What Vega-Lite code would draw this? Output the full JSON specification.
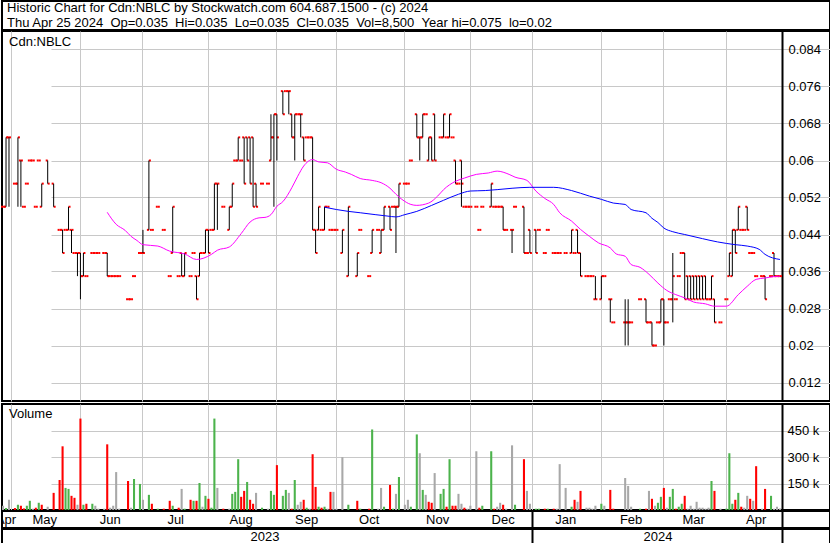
{
"$schema":"https://vega.github.io/schema/vega-lite/v6.json",
"padding":0,
"background":"white",
"config":{"view":{"stroke":"black","strokeWidth":2},"font":"Liberation Sans",
"axis":{"labelFont":"Liberation Sans","labelColor":"black","labelFontSize":13,"gridColor":"#c8c8c8","gridWidth":1,"gridOpacity":1},
"text":{"font":"Liberation Sans","fontSize":13,"color":"black"}},
"datasets":{
"px":[
{"d":"2023-04-26","o":0.05,"h":0.05,"l":0.05,"c":0.05,"v":24100,"dir":"flat"},
{"d":"2023-04-27","o":0.05,"h":0.065,"l":0.05,"c":0.065,"v":11000,"dir":"up"},
{"d":"2023-04-28","o":0.065,"h":0.065,"l":0.05,"c":0.065,"v":57800,"dir":"flat"},
{"d":"2023-05-01","v":0},
{"d":"2023-05-02","o":0.055,"h":0.055,"l":0.055,"c":0.055,"v":11000,"dir":"down"},
{"d":"2023-05-03","o":0.055,"h":0.065,"l":0.05,"c":0.065,"v":29700,"dir":"up"},
{"d":"2023-05-04","o":0.06,"h":0.06,"l":0.05,"c":0.06,"v":24100,"dir":"down"},
{"d":"2023-05-05","o":0.05,"h":0.05,"l":0.05,"c":0.05,"v":9000,"dir":"down"},
{"d":"2023-05-08","o":0.055,"h":0.055,"l":0.055,"c":0.055,"v":24100,"dir":"up"},
{"d":"2023-05-09","o":0.06,"h":0.06,"l":0.06,"c":0.06,"v":52100,"dir":"up"},
{"d":"2023-05-10","o":0.06,"h":0.06,"l":0.06,"c":0.06,"v":7300,"dir":"flat"},
{"d":"2023-05-11","o":0.05,"h":0.05,"l":0.05,"c":0.05,"v":12900,"dir":"down"},
{"d":"2023-05-12","o":0.06,"h":0.06,"l":0.06,"c":0.06,"v":40900,"dir":"up"},
{"d":"2023-05-15","o":0.05,"h":0.055,"l":0.05,"c":0.055,"v":29700,"dir":"down"},
{"d":"2023-05-16","v":0},
{"d":"2023-05-17","o":0.06,"h":0.06,"l":0.055,"c":0.055,"v":18500,"dir":"flat"},
{"d":"2023-05-18","v":0},
{"d":"2023-05-19","o":0.055,"h":0.055,"l":0.05,"c":0.05,"v":97000,"dir":"down"},
{"d":"2023-05-22","v":0},
{"d":"2023-05-23","o":0.045,"h":0.045,"l":0.045,"c":0.045,"v":169900,"dir":"down"},
{"d":"2023-05-24","o":0.045,"h":0.045,"l":0.04,"c":0.04,"v":360500,"dir":"down"},
{"d":"2023-05-25","o":0.045,"h":0.045,"l":0.045,"c":0.045,"v":125000,"dir":"up"},
{"d":"2023-05-26","o":0.045,"h":0.05,"l":0.045,"c":0.05,"v":119400,"dir":"up"},
{"d":"2023-05-29","o":0.045,"h":0.045,"l":0.04,"c":0.045,"v":80200,"dir":"down"},
{"d":"2023-05-30","o":0.04,"h":0.04,"l":0.04,"c":0.04,"v":69000,"dir":"down"},
{"d":"2023-05-31","o":0.04,"h":0.04,"l":0.035,"c":0.04,"v":29700,"dir":"flat"},
{"d":"2023-06-01","o":0.04,"h":0.04,"l":0.03,"c":0.035,"v":517500,"dir":"down"},
{"d":"2023-06-02","o":0.035,"h":0.04,"l":0.035,"c":0.04,"v":29700,"dir":"up"},
{"d":"2023-06-05","o":0.035,"h":0.035,"l":0.035,"c":0.035,"v":35300,"dir":"down"},
{"d":"2023-06-06","v":0},
{"d":"2023-06-07","o":0.04,"h":0.04,"l":0.04,"c":0.04,"v":35300,"dir":"up"},
{"d":"2023-06-08","o":0.04,"h":0.04,"l":0.04,"c":0.04,"v":24100,"dir":"flat"},
{"d":"2023-06-09","o":0.04,"h":0.04,"l":0.04,"c":0.04,"v":7300,"dir":"flat"},
{"d":"2023-06-12","v":0},
{"d":"2023-06-13","o":0.04,"h":0.04,"l":0.04,"c":0.04,"v":7300,"dir":"flat"},
{"d":"2023-06-14","o":0.04,"h":0.04,"l":0.035,"c":0.035,"v":371700,"dir":"down"},
{"d":"2023-06-15","o":0.035,"h":0.035,"l":0.035,"c":0.035,"v":12900,"dir":"flat"},
{"d":"2023-06-16","o":0.035,"h":0.035,"l":0.035,"c":0.035,"v":24100,"dir":"flat"},
{"d":"2023-06-19","o":0.035,"h":0.035,"l":0.035,"c":0.035,"v":214700,"dir":"flat"},
{"d":"2023-06-20","o":0.035,"h":0.035,"l":0.035,"c":0.035,"v":7300,"dir":"flat"},
{"d":"2023-06-21","v":0},
{"d":"2023-06-22","v":0},
{"d":"2023-06-23","o":0.03,"h":0.03,"l":0.03,"c":0.03,"v":164300,"dir":"down"},
{"d":"2023-06-26","o":0.03,"h":0.03,"l":0.03,"c":0.03,"v":12900,"dir":"flat"},
{"d":"2023-06-27","o":0.035,"h":0.035,"l":0.035,"c":0.035,"v":175500,"dir":"up"},
{"d":"2023-06-28","v":0},
{"d":"2023-06-29","o":0.04,"h":0.04,"l":0.04,"c":0.04,"v":147500,"dir":"up"},
{"d":"2023-06-30","o":0.04,"h":0.045,"l":0.04,"c":0.04,"v":57800,"dir":"flat"},
{"d":"2023-07-03","v":0},
{"d":"2023-07-04","o":0.045,"h":0.06,"l":0.045,"c":0.06,"v":85800,"dir":"up"},
{"d":"2023-07-05","o":0.045,"h":0.045,"l":0.045,"c":0.045,"v":35300,"dir":"down"},
{"d":"2023-07-06","v":0},
{"d":"2023-07-07","o":0.05,"h":0.05,"l":0.05,"c":0.05,"v":7300,"dir":"up"},
{"d":"2023-07-10","v":0},
{"d":"2023-07-11","o":0.045,"h":0.045,"l":0.045,"c":0.045,"v":7300,"dir":"down"},
{"d":"2023-07-12","v":0},
{"d":"2023-07-13","o":0.035,"h":0.035,"l":0.035,"c":0.035,"v":52100,"dir":"down"},
{"d":"2023-07-14","o":0.04,"h":0.05,"l":0.04,"c":0.05,"v":24100,"dir":"up"},
{"d":"2023-07-17","v":0},
{"d":"2023-07-18","o":0.035,"h":0.035,"l":0.035,"c":0.035,"v":12900,"dir":"down"},
{"d":"2023-07-19","o":0.04,"h":0.04,"l":0.035,"c":0.035,"v":119400,"dir":"flat"},
{"d":"2023-07-20","o":0.035,"h":0.04,"l":0.035,"c":0.04,"v":7300,"dir":"up"},
{"d":"2023-07-21","v":0},
{"d":"2023-07-24","o":0.035,"h":0.035,"l":0.035,"c":0.035,"v":57800,"dir":"down"},
{"d":"2023-07-25","o":0.04,"h":0.04,"l":0.04,"c":0.04,"v":52100,"dir":"up"},
{"d":"2023-07-26","o":0.035,"h":0.035,"l":0.03,"c":0.03,"v":52100,"dir":"down"},
{"d":"2023-07-27","o":0.035,"h":0.04,"l":0.035,"c":0.04,"v":153000,"dir":"up"},
{"d":"2023-07-28","o":0.04,"h":0.04,"l":0.04,"c":0.04,"v":18500,"dir":"flat"},
{"d":"2023-07-31","o":0.04,"h":0.045,"l":0.04,"c":0.045,"v":80200,"dir":"up"},
{"d":"2023-08-01","o":0.045,"h":0.045,"l":0.04,"c":0.04,"v":63400,"dir":"down"},
{"d":"2023-08-02","o":0.045,"h":0.045,"l":0.045,"c":0.045,"v":12900,"dir":"up"},
{"d":"2023-08-03","o":0.045,"h":0.055,"l":0.045,"c":0.055,"v":517500,"dir":"up"},
{"d":"2023-08-04","o":0.055,"h":0.055,"l":0.045,"c":0.055,"v":125000,"dir":"flat"},
{"d":"2023-08-07","v":0},
{"d":"2023-08-08","o":0.05,"h":0.05,"l":0.05,"c":0.05,"v":7300,"dir":"down"},
{"d":"2023-08-09","v":0},
{"d":"2023-08-10","o":0.045,"h":0.05,"l":0.045,"c":0.05,"v":7300,"dir":"flat"},
{"d":"2023-08-11","o":0.05,"h":0.055,"l":0.05,"c":0.055,"v":91400,"dir":"up"},
{"d":"2023-08-14","o":0.06,"h":0.06,"l":0.06,"c":0.06,"v":102600,"dir":"up"},
{"d":"2023-08-15","o":0.06,"h":0.065,"l":0.06,"c":0.065,"v":287600,"dir":"up"},
{"d":"2023-08-16","o":0.06,"h":0.06,"l":0.06,"c":0.06,"v":74600,"dir":"down"},
{"d":"2023-08-17","o":0.065,"h":0.065,"l":0.055,"c":0.055,"v":108200,"dir":"down"},
{"d":"2023-08-18","o":0.065,"h":0.065,"l":0.06,"c":0.06,"v":158700,"dir":"up"},
{"d":"2023-08-21","o":0.065,"h":0.065,"l":0.055,"c":0.055,"v":57800,"dir":"down"},
{"d":"2023-08-22","o":0.065,"h":0.065,"l":0.05,"c":0.05,"v":35300,"dir":"down"},
{"d":"2023-08-23","o":0.055,"h":0.055,"l":0.05,"c":0.05,"v":97000,"dir":"flat"},
{"d":"2023-08-24","v":0},
{"d":"2023-08-25","o":0.055,"h":0.055,"l":0.055,"c":0.055,"v":12900,"dir":"up"},
{"d":"2023-08-28","v":0},
{"d":"2023-08-29","o":0.055,"h":0.055,"l":0.055,"c":0.055,"v":7300,"dir":"flat"},
{"d":"2023-08-30","o":0.06,"h":0.07,"l":0.06,"c":0.065,"v":108200,"dir":"up"},
{"d":"2023-08-31","o":0.065,"h":0.07,"l":0.05,"c":0.07,"v":85800,"dir":"up"},
{"d":"2023-09-01","o":0.07,"h":0.07,"l":0.06,"c":0.065,"v":254000,"dir":"down"},
{"d":"2023-09-04","v":0},
{"d":"2023-09-05","o":0.075,"h":0.075,"l":0.07,"c":0.07,"v":80200,"dir":"up"},
{"d":"2023-09-06","o":0.075,"h":0.075,"l":0.075,"c":0.075,"v":113800,"dir":"up"},
{"d":"2023-09-07","o":0.075,"h":0.075,"l":0.07,"c":0.075,"v":97000,"dir":"flat"},
{"d":"2023-09-08","o":0.07,"h":0.07,"l":0.065,"c":0.065,"v":7300,"dir":"down"},
{"d":"2023-09-11","o":0.065,"h":0.07,"l":0.06,"c":0.07,"v":169900,"dir":"up"},
{"d":"2023-09-12","o":0.07,"h":0.07,"l":0.07,"c":0.07,"v":29700,"dir":"flat"},
{"d":"2023-09-13","o":0.07,"h":0.07,"l":0.065,"c":0.07,"v":46500,"dir":"flat"},
{"d":"2023-09-14","o":0.065,"h":0.065,"l":0.06,"c":0.06,"v":57800,"dir":"down"},
{"d":"2023-09-15","o":0.065,"h":0.065,"l":0.065,"c":0.065,"v":12900,"dir":"up"},
{"d":"2023-09-18","o":0.065,"h":0.065,"l":0.065,"c":0.065,"v":7300,"dir":"flat"},
{"d":"2023-09-19","o":0.065,"h":0.065,"l":0.045,"c":0.045,"v":315700,"dir":"down"},
{"d":"2023-09-20","o":0.045,"h":0.045,"l":0.04,"c":0.04,"v":130600,"dir":"down"},
{"d":"2023-09-21","o":0.045,"h":0.05,"l":0.045,"c":0.05,"v":18500,"dir":"up"},
{"d":"2023-09-22","o":0.045,"h":0.045,"l":0.045,"c":0.045,"v":12900,"dir":"down"},
{"d":"2023-09-25","o":0.045,"h":0.05,"l":0.045,"c":0.05,"v":18500,"dir":"up"},
{"d":"2023-09-26","o":0.05,"h":0.05,"l":0.05,"c":0.05,"v":7300,"dir":"flat"},
{"d":"2023-09-27","o":0.045,"h":0.045,"l":0.045,"c":0.045,"v":102600,"dir":"down"},
{"d":"2023-09-28","o":0.045,"h":0.045,"l":0.045,"c":0.045,"v":102600,"dir":"flat"},
{"d":"2023-09-29","o":0.045,"h":0.045,"l":0.045,"c":0.045,"v":7300,"dir":"flat"},
{"d":"2023-10-02","v":0},
{"d":"2023-10-03","o":0.04,"h":0.045,"l":0.04,"c":0.045,"v":298900,"dir":"flat"},
{"d":"2023-10-04","v":0},
{"d":"2023-10-05","o":0.035,"h":0.05,"l":0.035,"c":0.05,"v":29700,"dir":"up"},
{"d":"2023-10-06","v":0},
{"d":"2023-10-09","v":0},
{"d":"2023-10-10","o":0.035,"h":0.04,"l":0.035,"c":0.04,"v":52100,"dir":"down"},
{"d":"2023-10-11","o":0.045,"h":0.045,"l":0.045,"c":0.045,"v":7300,"dir":"up"},
{"d":"2023-10-12","v":0},
{"d":"2023-10-13","v":0},
{"d":"2023-10-16","o":0.035,"h":0.035,"l":0.035,"c":0.035,"v":7300,"dir":"down"},
{"d":"2023-10-17","o":0.04,"h":0.045,"l":0.04,"c":0.045,"v":455800,"dir":"up"},
{"d":"2023-10-18","v":0},
{"d":"2023-10-19","o":0.045,"h":0.045,"l":0.045,"c":0.045,"v":7300,"dir":"flat"},
{"d":"2023-10-20","o":0.04,"h":0.045,"l":0.04,"c":0.045,"v":125000,"dir":"flat"},
{"d":"2023-10-23","o":0.045,"h":0.05,"l":0.045,"c":0.05,"v":18500,"dir":"up"},
{"d":"2023-10-24","v":0},
{"d":"2023-10-25","o":0.05,"h":0.05,"l":0.045,"c":0.045,"v":141900,"dir":"down"},
{"d":"2023-10-26","o":0.05,"h":0.05,"l":0.05,"c":0.05,"v":7300,"dir":"up"},
{"d":"2023-10-27","o":0.05,"h":0.05,"l":0.04,"c":0.05,"v":91400,"dir":"flat"},
{"d":"2023-10-30","o":0.05,"h":0.055,"l":0.05,"c":0.055,"v":186700,"dir":"up"},
{"d":"2023-10-31","v":0},
{"d":"2023-11-01","o":0.055,"h":0.055,"l":0.055,"c":0.055,"v":29700,"dir":"flat"},
{"d":"2023-11-02","o":0.055,"h":0.055,"l":0.055,"c":0.055,"v":57800,"dir":"flat"},
{"d":"2023-11-03","o":0.06,"h":0.06,"l":0.06,"c":0.06,"v":18500,"dir":"up"},
{"d":"2023-11-06","v":0},
{"d":"2023-11-07","o":0.07,"h":0.07,"l":0.065,"c":0.065,"v":427800,"dir":"up"},
{"d":"2023-11-08","o":0.065,"h":0.065,"l":0.06,"c":0.065,"v":321300,"dir":"flat"},
{"d":"2023-11-09","o":0.065,"h":0.07,"l":0.065,"c":0.07,"v":113800,"dir":"up"},
{"d":"2023-11-10","o":0.07,"h":0.07,"l":0.07,"c":0.07,"v":85800,"dir":"flat"},
{"d":"2023-11-13","o":0.06,"h":0.065,"l":0.06,"c":0.065,"v":46500,"dir":"down"},
{"d":"2023-11-14","o":0.065,"h":0.065,"l":0.06,"c":0.06,"v":40900,"dir":"down"},
{"d":"2023-11-15","o":0.07,"h":0.07,"l":0.06,"c":0.06,"v":209000,"dir":"flat"},
{"d":"2023-11-16","v":0},
{"d":"2023-11-17","o":0.065,"h":0.065,"l":0.065,"c":0.065,"v":91400,"dir":"up"},
{"d":"2023-11-20","o":0.065,"h":0.07,"l":0.065,"c":0.07,"v":119400,"dir":"up"},
{"d":"2023-11-21","o":0.065,"h":0.065,"l":0.065,"c":0.065,"v":18500,"dir":"down"},
{"d":"2023-11-22","o":0.065,"h":0.07,"l":0.065,"c":0.07,"v":287600,"dir":"up"},
{"d":"2023-11-23","o":0.065,"h":0.065,"l":0.065,"c":0.065,"v":24100,"dir":"down"},
{"d":"2023-11-24","o":0.06,"h":0.06,"l":0.055,"c":0.055,"v":24100,"dir":"down"},
{"d":"2023-11-27","o":0.055,"h":0.055,"l":0.055,"c":0.055,"v":91400,"dir":"flat"},
{"d":"2023-11-28","o":0.06,"h":0.06,"l":0.05,"c":0.055,"v":35300,"dir":"flat"},
{"d":"2023-11-29","o":0.05,"h":0.05,"l":0.05,"c":0.05,"v":12900,"dir":"down"},
{"d":"2023-11-30","o":0.05,"h":0.05,"l":0.05,"c":0.05,"v":7300,"dir":"flat"},
{"d":"2023-12-01","o":0.05,"h":0.05,"l":0.05,"c":0.05,"v":24100,"dir":"flat"},
{"d":"2023-12-04","v":0},
{"d":"2023-12-05","o":0.05,"h":0.05,"l":0.05,"c":0.05,"v":332500,"dir":"flat"},
{"d":"2023-12-06","o":0.045,"h":0.045,"l":0.045,"c":0.045,"v":12900,"dir":"down"},
{"d":"2023-12-07","o":0.05,"h":0.05,"l":0.05,"c":0.05,"v":24100,"dir":"up"},
{"d":"2023-12-08","v":0},
{"d":"2023-12-11","v":0},
{"d":"2023-12-12","o":0.05,"h":0.055,"l":0.05,"c":0.055,"v":332500,"dir":"up"},
{"d":"2023-12-13","o":0.05,"h":0.05,"l":0.05,"c":0.05,"v":7300,"dir":"down"},
{"d":"2023-12-14","o":0.05,"h":0.05,"l":0.05,"c":0.05,"v":18500,"dir":"flat"},
{"d":"2023-12-15","o":0.05,"h":0.05,"l":0.05,"c":0.05,"v":40900,"dir":"flat"},
{"d":"2023-12-18","o":0.05,"h":0.05,"l":0.045,"c":0.045,"v":29700,"dir":"down"},
{"d":"2023-12-19","o":0.045,"h":0.045,"l":0.045,"c":0.045,"v":7300,"dir":"flat"},
{"d":"2023-12-20","v":0},
{"d":"2023-12-21","o":0.045,"h":0.045,"l":0.04,"c":0.045,"v":366000,"dir":"flat"},
{"d":"2023-12-22","o":0.05,"h":0.05,"l":0.05,"c":0.05,"v":29700,"dir":"up"},
{"d":"2023-12-25","v":0},
{"d":"2023-12-26","v":0},
{"d":"2023-12-27","o":0.05,"h":0.05,"l":0.04,"c":0.04,"v":287600,"dir":"down"},
{"d":"2023-12-28","o":0.04,"h":0.04,"l":0.04,"c":0.04,"v":108200,"dir":"flat"},
{"d":"2023-12-29","o":0.045,"h":0.045,"l":0.04,"c":0.04,"v":35300,"dir":"flat"},
{"d":"2024-01-01","v":0},
{"d":"2024-01-02","o":0.045,"h":0.045,"l":0.04,"c":0.04,"v":7300,"dir":"up"},
{"d":"2024-01-03","o":0.045,"h":0.045,"l":0.045,"c":0.045,"v":7300,"dir":"up"},
{"d":"2024-01-04","v":0},
{"d":"2024-01-05","o":0.04,"h":0.04,"l":0.04,"c":0.04,"v":7300,"dir":"down"},
{"d":"2024-01-08","o":0.045,"h":0.045,"l":0.045,"c":0.045,"v":7300,"dir":"up"},
{"d":"2024-01-09","v":0},
{"d":"2024-01-10","o":0.04,"h":0.04,"l":0.04,"c":0.04,"v":7300,"dir":"down"},
{"d":"2024-01-11","o":0.04,"h":0.04,"l":0.04,"c":0.04,"v":7300,"dir":"flat"},
{"d":"2024-01-12","o":0.04,"h":0.04,"l":0.04,"c":0.04,"v":259600,"dir":"flat"},
{"d":"2024-01-15","v":0},
{"d":"2024-01-16","o":0.04,"h":0.04,"l":0.04,"c":0.04,"v":125000,"dir":"flat"},
{"d":"2024-01-17","v":0},
{"d":"2024-01-18","o":0.04,"h":0.045,"l":0.04,"c":0.045,"v":18500,"dir":"up"},
{"d":"2024-01-19","o":0.04,"h":0.04,"l":0.04,"c":0.04,"v":57800,"dir":"down"},
{"d":"2024-01-22","o":0.045,"h":0.045,"l":0.04,"c":0.04,"v":46500,"dir":"flat"},
{"d":"2024-01-23","o":0.04,"h":0.04,"l":0.035,"c":0.035,"v":108200,"dir":"down"},
{"d":"2024-01-24","v":0},
{"d":"2024-01-25","o":0.035,"h":0.035,"l":0.035,"c":0.035,"v":12900,"dir":"flat"},
{"d":"2024-01-26","o":0.035,"h":0.035,"l":0.035,"c":0.035,"v":12900,"dir":"flat"},
{"d":"2024-01-29","o":0.035,"h":0.035,"l":0.035,"c":0.035,"v":7300,"dir":"flat"},
{"d":"2024-01-30","o":0.03,"h":0.035,"l":0.03,"c":0.03,"v":24100,"dir":"flat"},
{"d":"2024-01-31","v":0},
{"d":"2024-02-01","o":0.03,"h":0.035,"l":0.03,"c":0.035,"v":35300,"dir":"up"},
{"d":"2024-02-02","o":0.035,"h":0.035,"l":0.035,"c":0.035,"v":24100,"dir":"flat"},
{"d":"2024-02-05","v":0},
{"d":"2024-02-06","o":0.03,"h":0.03,"l":0.025,"c":0.03,"v":113800,"dir":"down"},
{"d":"2024-02-07","o":0.025,"h":0.025,"l":0.025,"c":0.025,"v":7300,"dir":"down"},
{"d":"2024-02-08","v":0},
{"d":"2024-02-09","v":0},
{"d":"2024-02-12","v":0},
{"d":"2024-02-13","o":0.025,"h":0.03,"l":0.02,"c":0.025,"v":181000,"dir":"flat"},
{"d":"2024-02-14","o":0.025,"h":0.03,"l":0.02,"c":0.025,"v":136300,"dir":"flat"},
{"d":"2024-02-15","o":0.025,"h":0.025,"l":0.025,"c":0.025,"v":18500,"dir":"flat"},
{"d":"2024-02-16","v":0},
{"d":"2024-02-19","v":0},
{"d":"2024-02-20","o":0.03,"h":0.03,"l":0.03,"c":0.03,"v":7300,"dir":"up"},
{"d":"2024-02-21","v":0},
{"d":"2024-02-22","o":0.03,"h":0.03,"l":0.025,"c":0.025,"v":7300,"dir":"down"},
{"d":"2024-02-23","o":0.025,"h":0.025,"l":0.025,"c":0.025,"v":108200,"dir":"flat"},
{"d":"2024-02-26","o":0.025,"h":0.025,"l":0.02,"c":0.02,"v":63400,"dir":"down"},
{"d":"2024-02-27","o":0.02,"h":0.02,"l":0.02,"c":0.02,"v":24100,"dir":"flat"},
{"d":"2024-02-28","o":0.025,"h":0.025,"l":0.025,"c":0.025,"v":40900,"dir":"up"},
{"d":"2024-02-29","o":0.025,"h":0.03,"l":0.025,"c":0.03,"v":74600,"dir":"up"},
{"d":"2024-03-01","o":0.03,"h":0.03,"l":0.02,"c":0.025,"v":125000,"dir":"down"},
{"d":"2024-03-04","o":0.025,"h":0.025,"l":0.025,"c":0.025,"v":12900,"dir":"flat"},
{"d":"2024-03-05","o":0.03,"h":0.03,"l":0.03,"c":0.03,"v":74600,"dir":"up"},
{"d":"2024-03-06","o":0.03,"h":0.04,"l":0.025,"c":0.035,"v":119400,"dir":"up"},
{"d":"2024-03-07","o":0.03,"h":0.03,"l":0.03,"c":0.03,"v":7300,"dir":"down"},
{"d":"2024-03-08","o":0.035,"h":0.035,"l":0.035,"c":0.035,"v":18500,"dir":"up"},
{"d":"2024-03-11","o":0.04,"h":0.04,"l":0.04,"c":0.04,"v":35300,"dir":"up"},
{"d":"2024-03-12","o":0.04,"h":0.04,"l":0.03,"c":0.03,"v":80200,"dir":"down"},
{"d":"2024-03-13","o":0.035,"h":0.035,"l":0.03,"c":0.03,"v":7300,"dir":"flat"},
{"d":"2024-03-14","o":0.035,"h":0.035,"l":0.03,"c":0.03,"v":24100,"dir":"flat"},
{"d":"2024-03-15","o":0.035,"h":0.035,"l":0.03,"c":0.03,"v":7300,"dir":"flat"},
{"d":"2024-03-18","o":0.035,"h":0.035,"l":0.03,"c":0.03,"v":46500,"dir":"flat"},
{"d":"2024-03-19","o":0.035,"h":0.035,"l":0.03,"c":0.03,"v":12900,"dir":"flat"},
{"d":"2024-03-20","o":0.035,"h":0.035,"l":0.03,"c":0.03,"v":12900,"dir":"flat"},
{"d":"2024-03-21","o":0.035,"h":0.035,"l":0.03,"c":0.03,"v":7300,"dir":"flat"},
{"d":"2024-03-22","o":0.03,"h":0.03,"l":0.03,"c":0.03,"v":12900,"dir":"flat"},
{"d":"2024-03-25","o":0.03,"h":0.035,"l":0.03,"c":0.035,"v":164300,"dir":"up"},
{"d":"2024-03-26","o":0.03,"h":0.03,"l":0.025,"c":0.025,"v":108200,"dir":"down"},
{"d":"2024-03-27","v":0},
{"d":"2024-03-28","o":0.025,"h":0.025,"l":0.025,"c":0.025,"v":7300,"dir":"flat"},
{"d":"2024-03-29","v":0},
{"d":"2024-04-01","o":0.03,"h":0.03,"l":0.03,"c":0.03,"v":7300,"dir":"up"},
{"d":"2024-04-02","o":0.035,"h":0.04,"l":0.035,"c":0.04,"v":321300,"dir":"up"},
{"d":"2024-04-03","o":0.035,"h":0.045,"l":0.035,"c":0.045,"v":35300,"dir":"up"},
{"d":"2024-04-04","o":0.045,"h":0.045,"l":0.04,"c":0.04,"v":57800,"dir":"down"},
{"d":"2024-04-05","o":0.045,"h":0.05,"l":0.045,"c":0.05,"v":97000,"dir":"up"},
{"d":"2024-04-08","o":0.045,"h":0.045,"l":0.045,"c":0.045,"v":18500,"dir":"down"},
{"d":"2024-04-09","o":0.045,"h":0.045,"l":0.045,"c":0.045,"v":12900,"dir":"flat"},
{"d":"2024-04-10","o":0.05,"h":0.05,"l":0.045,"c":0.045,"v":80200,"dir":"flat"},
{"d":"2024-04-11","o":0.04,"h":0.04,"l":0.04,"c":0.04,"v":63400,"dir":"down"},
{"d":"2024-04-12","o":0.04,"h":0.04,"l":0.04,"c":0.04,"v":52100,"dir":"flat"},
{"d":"2024-04-15","o":0.035,"h":0.035,"l":0.035,"c":0.035,"v":248000,"dir":"down"},
{"d":"2024-04-16","v":0},
{"d":"2024-04-17","o":0.035,"h":0.035,"l":0.035,"c":0.035,"v":7300,"dir":"flat"},
{"d":"2024-04-18","o":0.035,"h":0.035,"l":0.03,"c":0.03,"v":119400,"dir":"down"},
{"d":"2024-04-19","v":0},
{"d":"2024-04-22","o":0.035,"h":0.035,"l":0.035,"c":0.035,"v":80200,"dir":"up"},
{"d":"2024-04-23","o":0.04,"h":0.04,"l":0.035,"c":0.035,"v":7300,"dir":"flat"},
{"d":"2024-04-24","o":0.035,"h":0.035,"l":0.035,"c":0.035,"v":18500,"dir":"flat"},
{"d":"2024-04-25","o":0.035,"h":0.035,"l":0.035,"c":0.035,"v":8500,"dir":"flat"}
],
"ma":[
{"d":"2023-06-14","s":"short","p":0.0488},{"d":"2023-06-19","s":"short","p":0.0462},{"d":"2023-06-22","s":"short","p":0.0449},{"d":"2023-06-26","s":"short","p":0.0436},{"d":"2023-06-28","s":"short","p":0.0427},{"d":"2023-06-30","s":"short","p":0.0418},{"d":"2023-07-07","s":"short","p":0.0415},{"d":"2023-07-13","s":"short","p":0.0404},{"d":"2023-07-20","s":"short","p":0.0398},{"d":"2023-07-26","s":"short","p":0.0386},{"d":"2023-08-02","s":"short","p":0.0397},{"d":"2023-08-04","s":"short","p":0.0406},{"d":"2023-08-10","s":"short","p":0.0413},{"d":"2023-08-16","s":"short","p":0.0442},{"d":"2023-08-21","s":"short","p":0.0467},{"d":"2023-08-24","s":"short","p":0.0476},{"d":"2023-08-28","s":"short","p":0.0477},{"d":"2023-08-30","s":"short","p":0.0483},{"d":"2023-09-01","s":"short","p":0.0501},{"d":"2023-09-05","s":"short","p":0.0511},{"d":"2023-09-08","s":"short","p":0.0541},{"d":"2023-09-12","s":"short","p":0.0566},{"d":"2023-09-14","s":"short","p":0.0588},{"d":"2023-09-19","s":"short","p":0.0602},{"d":"2023-09-21","s":"short","p":0.0597},{"d":"2023-09-26","s":"short","p":0.0595},{"d":"2023-09-29","s":"short","p":0.0581},{"d":"2023-10-04","s":"short","p":0.0575},{"d":"2023-10-06","s":"short","p":0.057},{"d":"2023-10-11","s":"short","p":0.0561},{"d":"2023-10-17","s":"short","p":0.0557},{"d":"2023-10-20","s":"short","p":0.0552},{"d":"2023-10-25","s":"short","p":0.054},{"d":"2023-10-27","s":"short","p":0.0527},{"d":"2023-10-31","s":"short","p":0.0516},{"d":"2023-11-03","s":"short","p":0.0505},{"d":"2023-11-07","s":"short","p":0.0503},{"d":"2023-11-13","s":"short","p":0.0508},{"d":"2023-11-16","s":"short","p":0.0523},{"d":"2023-11-20","s":"short","p":0.0537},{"d":"2023-11-24","s":"short","p":0.0555},{"d":"2023-11-29","s":"short","p":0.0562},{"d":"2023-12-05","s":"short","p":0.057},{"d":"2023-12-11","s":"short","p":0.0573},{"d":"2023-12-14","s":"short","p":0.0577},{"d":"2023-12-20","s":"short","p":0.057},{"d":"2023-12-22","s":"short","p":0.0564},{"d":"2023-12-28","s":"short","p":0.0557},{"d":"2024-01-02","s":"short","p":0.0534},{"d":"2024-01-05","s":"short","p":0.0518},{"d":"2024-01-10","s":"short","p":0.0505},{"d":"2024-01-12","s":"short","p":0.0487},{"d":"2024-01-18","s":"short","p":0.0469},{"d":"2024-01-23","s":"short","p":0.0451},{"d":"2024-01-26","s":"short","p":0.0436},{"d":"2024-01-31","s":"short","p":0.0422},{"d":"2024-02-06","s":"short","p":0.0411},{"d":"2024-02-08","s":"short","p":0.0398},{"d":"2024-02-13","s":"short","p":0.0393},{"d":"2024-02-15","s":"short","p":0.0375},{"d":"2024-02-20","s":"short","p":0.0369},{"d":"2024-02-23","s":"short","p":0.0354},{"d":"2024-02-28","s":"short","p":0.0335},{"d":"2024-03-04","s":"short","p":0.0319},{"d":"2024-03-07","s":"short","p":0.031},{"d":"2024-03-12","s":"short","p":0.0303},{"d":"2024-03-15","s":"short","p":0.0294},{"d":"2024-03-21","s":"short","p":0.029},{"d":"2024-03-26","s":"short","p":0.0285},{"d":"2024-04-01","s":"short","p":0.0285},{"d":"2024-04-05","s":"short","p":0.031},{"d":"2024-04-10","s":"short","p":0.0328},{"d":"2024-04-15","s":"short","p":0.0343},{"d":"2024-04-18","s":"short","p":0.0346},{"d":"2024-04-23","s":"short","p":0.0349},{"d":"2024-04-25","s":"short","p":0.035},
{"d":"2023-09-25","s":"long","p":0.0499},{"d":"2023-09-29","s":"long","p":0.0494},{"d":"2023-10-05","s":"long","p":0.049},{"d":"2023-10-11","s":"long","p":0.0487},{"d":"2023-10-18","s":"long","p":0.0483},{"d":"2023-10-24","s":"long","p":0.048},{"d":"2023-10-27","s":"long","p":0.0478},{"d":"2023-11-01","s":"long","p":0.0483},{"d":"2023-11-07","s":"long","p":0.049},{"d":"2023-11-14","s":"long","p":0.0503},{"d":"2023-11-20","s":"long","p":0.0514},{"d":"2023-11-27","s":"long","p":0.0527},{"d":"2023-12-01","s":"long","p":0.0534},{"d":"2023-12-08","s":"long","p":0.0535},{"d":"2023-12-14","s":"long","p":0.0537},{"d":"2023-12-21","s":"long","p":0.054},{"d":"2023-12-29","s":"long","p":0.0542},{"d":"2024-01-10","s":"long","p":0.0542},{"d":"2024-01-18","s":"long","p":0.0535},{"d":"2024-01-26","s":"long","p":0.0523},{"d":"2024-02-01","s":"long","p":0.0516},{"d":"2024-02-07","s":"long","p":0.0508},{"d":"2024-02-13","s":"long","p":0.0505},{"d":"2024-02-15","s":"long","p":0.0494},{"d":"2024-02-22","s":"long","p":0.0487},{"d":"2024-02-26","s":"long","p":0.0475},{"d":"2024-02-28","s":"long","p":0.0466},{"d":"2024-03-01","s":"long","p":0.0454},{"d":"2024-03-06","s":"long","p":0.0446},{"d":"2024-03-12","s":"long","p":0.044},{"d":"2024-03-20","s":"long","p":0.0431},{"d":"2024-03-27","s":"long","p":0.0424},{"d":"2024-04-04","s":"long","p":0.0418},{"d":"2024-04-10","s":"long","p":0.0415},{"d":"2024-04-16","s":"long","p":0.0408},{"d":"2024-04-18","s":"long","p":0.0397},{"d":"2024-04-25","s":"long","p":0.0386}
],
"months":[
{"d":"2023-04-27","m":"Apr"},{"d":"2023-05-16","m":"May"},{"d":"2023-06-15","m":"Jun"},{"d":"2023-07-17","m":"Jul"},{"d":"2023-08-16","m":"Aug"},{"d":"2023-09-15","m":"Sep"},{"d":"2023-10-16","m":"Oct"},{"d":"2023-11-16","m":"Nov"},{"d":"2023-12-18","m":"Dec"},{"d":"2024-01-16","m":"Jan"},{"d":"2024-02-15","m":"Feb"},{"d":"2024-03-15","m":"Mar"},{"d":"2024-04-15","m":"Apr"}
],
"years":[{"d":"2023-08-28","y":"2023"},{"d":"2024-02-28","y":"2024"}]
},
"spacing":-2,
"resolve":{"scale":{"x":"shared"}},
"vconcat":[
{"width":828,"height":29,
 "data":{"values":[{"line":1,"t":"Historic Chart for Cdn:NBLC by Stockwatch.com 604.687.1500 - (c) 2024"},{"line":2,"t":"Thu Apr 25 2024 \u00a0Op=0.035 \u00a0Hi=0.035 \u00a0Lo=0.035 \u00a0Cl=0.035 \u00a0Vol=8,500 \u00a0Year hi=0.075 \u00a0lo=0.02"}]},
 "mark":{"type":"text","align":"left","baseline":"middle","dx":4},
 "encoding":{
  "x":{"datum":"2023-04-26","type":"ordinal","axis":null},
  "y":{"field":"line","type":"ordinal","axis":null},
  "text":{"field":"t"}}},
{"spacing":1,"resolve":{"scale":{"x":"shared"}},"vconcat":[
 {"width":828,"height":370,"data":{"name":"px"},
  "layer":[
   {"transform":[{"filter":"isValid(datum.o)"}],
    "mark":{"type":"tick","color":"#ff0000","size":2,"thickness":2,"xOffset":-1,"opacity":1},
    "encoding":{
     "x":{"field":"d","type":"ordinal","scale":{"type":"band","range":[0,779],"paddingInner":0.3,"paddingOuter":0},
      "axis":{"values":["2023-05-01","2023-06-01","2023-06-30","2023-08-01","2023-09-01","2023-09-29","2023-11-01","2023-12-01","2024-01-01","2024-02-01","2024-03-01","2024-04-01"],"grid":true,"labels":false,"ticks":false,"domain":false,"title":null,"bandPosition":0.5}},
     "y":{"field":"o","type":"quantitative","scale":{"domain":[0.008,0.088],"zero":false,"nice":false},
      "axis":{"orient":"right","offset":-48,"values":[0.012,0.016,0.02,0.024,0.028,0.032,0.036,0.04,0.044,0.048,0.052,0.056,0.06,0.064,0.068,0.072,0.076,0.08,0.084],"format":".3~f","grid":true,"ticks":false,"domain":true,"domainColor":"black","domainWidth":2,"labelPadding":6,"labelFontSize":13,"title":null}}}},
   {"transform":[{"filter":"isValid(datum.c)"}],
    "mark":{"type":"tick","color":"#ff0000","size":2,"thickness":2,"xOffset":1,"opacity":1},
    "encoding":{"x":{"field":"d","type":"ordinal"},"y":{"field":"c","type":"quantitative"}}},
   {"transform":[{"filter":"isValid(datum.h)"}],
    "mark":{"type":"rule","color":"black","strokeWidth":1},
    "encoding":{"x":{"field":"d","type":"ordinal"},"y":{"field":"h","type":"quantitative"},"y2":{"field":"l"}}},
   {"data":{"name":"ma"},
    "mark":{"type":"line","strokeWidth":1,"interpolate":"monotone"},
    "encoding":{"x":{"field":"d","type":"ordinal"},"y":{"field":"p","type":"quantitative"},
     "stroke":{"field":"s","type":"nominal","scale":{"domain":["short","long"],"range":["#ff00ff","#0000ff"]},"legend":null}}},
   {"data":{"values":[{"t":"Cdn:NBLC"}]},
    "mark":{"type":"text","align":"left","baseline":"middle","dx":6},
    "encoding":{"x":{"datum":"2023-04-26","type":"ordinal"},"y":{"datum":0.0856,"type":"quantitative"},"text":{"field":"t"}}}
  ]},
 {"spacing":-2,"resolve":{"scale":{"x":"shared"}},"vconcat":[
  {"width":828,"height":106,
   "layer":[
    {"data":{"name":"px"},
     "mark":{"type":"bar"},
     "encoding":{
      "x":{"field":"d","type":"ordinal","scale":{"type":"band","range":[0,779],"paddingInner":0.3,"paddingOuter":0},
       "axis":{"values":["2023-05-01","2023-06-01","2023-06-30","2023-08-01","2023-09-01","2023-09-29","2023-11-01","2023-12-01","2024-01-01","2024-02-01","2024-03-01","2024-04-01"],"grid":true,"labels":false,"ticks":false,"domain":false,"title":null,"bandPosition":0.5}},
      "y":{"field":"v","type":"quantitative","scale":{"domain":[0,600000],"nice":false},
       "axis":{"orient":"right","offset":-48,"values":[150000,300000,450000],"labelExpr":"format(datum.value/1000,'d') + ' k'","grid":true,"ticks":false,"domain":true,"domainColor":"black","domainWidth":2,"labelPadding":5,"labelFontSize":13,"title":null}},
      "color":{"field":"dir","type":"nominal","scale":{"domain":["up","down","flat"],"range":["#4cb34c","#ff0000","#a8a8a8"]},"legend":null}}},
    {"data":{"values":[{"t":"Volume"}]},
     "mark":{"type":"text","align":"left","baseline":"middle","dx":6},
     "encoding":{"x":{"datum":"2023-04-26","type":"ordinal"},"y":{"datum":541000,"type":"quantitative"},"text":{"field":"t"}}}
   ]},
  {"width":828,"height":17,"data":{"name":"months"},
   "mark":{"type":"text","baseline":"middle","align":"center","clip":true},
   "encoding":{
    "x":{"field":"d","type":"ordinal","scale":{"type":"band","range":[0,779],"paddingInner":0.3,"paddingOuter":0},
     "axis":{"values":["2024-01-01"],"grid":true,"gridColor":"black","gridWidth":2,"labels":false,"ticks":false,"domain":false,"title":null,"bandPosition":0.5}},
    "y":{"datum":0,"type":"quantitative","scale":{"domain":[-1,1]},
     "axis":{"orient":"right","offset":-48,"labels":false,"ticks":false,"grid":false,"domain":true,"domainColor":"black","domainWidth":2,"title":null}},
    "text":{"field":"m"}}},
  {"width":828,"height":15,"data":{"name":"years"},
   "mark":{"type":"text","baseline":"middle","align":"center"},
   "encoding":{
    "x":{"field":"d","type":"ordinal","scale":{"type":"band","range":[0,779],"paddingInner":0.3,"paddingOuter":0},
     "axis":{"values":["2024-01-01"],"grid":true,"gridColor":"black","gridWidth":2,"labels":false,"ticks":false,"domain":false,"title":null,"bandPosition":0.5}},
    "y":{"datum":0,"type":"quantitative","scale":{"domain":[-1,1]},
     "axis":{"orient":"right","offset":-48,"labels":false,"ticks":false,"grid":false,"domain":true,"domainColor":"black","domainWidth":2,"title":null}},
    "text":{"field":"y"}}}
 ]}
]}
]
}
